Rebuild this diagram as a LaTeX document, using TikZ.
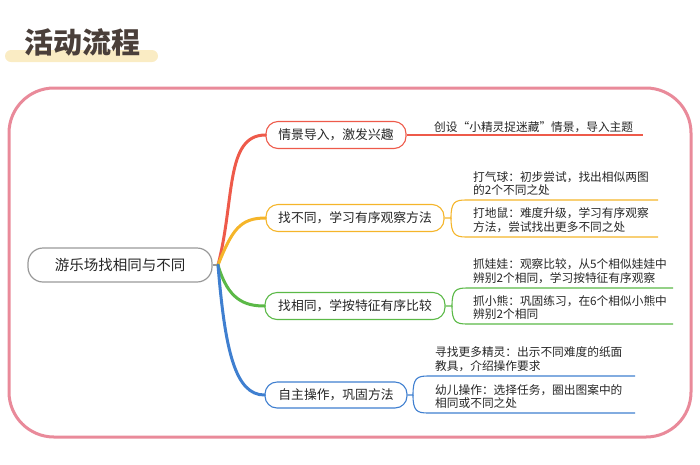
\documentclass[tikz,border=0pt]{standalone}
\usepackage{fontspec}
\setmainfont{Noto Sans CJK SC}
\begin{document}
\begin{tikzpicture}[x=1pt,y=-1pt,
  box/.style={draw=#1,line width=1.1pt,rounded corners=12pt,fill=white,inner sep=0pt,font=\fontsize{12.8}{14}\selectfont,text=black!85},
  leaf/.style={anchor=south west,align=left,inner sep=1pt,font=\fontsize{11.7}{13.8}\selectfont,text=black!85},
  trunk/.style={draw=#1,line width=3pt,line cap=round},
  sub/.style={draw=#1,line width=1.1pt}]
\useasboundingbox (0,0) rectangle (700,464);
\definecolor{cr}{HTML}{EE5A4A}\definecolor{co}{HTML}{F5B52A}
\definecolor{cg}{HTML}{5BB947}\definecolor{cb}{HTML}{3F7FD0}
\definecolor{pk}{HTML}{E98A9A}
\fill[fill={rgb,255:red,250;green,236;blue,196}, rounded corners=6pt] (5,50) rectangle (158,62);
\node[font=\fontsize{29}{32}\bfseries\selectfont,text={rgb,255:red,74;green,63;blue,58},anchor=west,inner sep=0pt] (title) at (24,42) {活动流程};
\draw[pk,line width=3pt,rounded corners=45pt] (9,88) rectangle (691,437);
\node[draw=gray!80,line width=1.2pt,rounded corners=15pt,minimum width=184pt,minimum height=34pt,font=\fontsize{14.5}{16}\selectfont,text=black!85] (root) at (120,265) {游乐场找相同与不同};
\coordinate (j) at (218,265);
\draw[gray!80,line width=1.2pt] (root.east) -- (j);
% boxes
\node[box=cr,minimum width=140pt,minimum height=27pt] (b1) at (336,135) {情景导入，激发兴趣};
\node[box=co,minimum width=178pt,minimum height=27pt] (b2) at (355,218) {找不同，学习有序观察方法};
\node[box=cg,minimum width=180pt,minimum height=27pt] (b3) at (355,306) {找相同，学按特征有序比较};
\node[box=cb,minimum width=142pt,minimum height=26pt] (b4) at (336,395) {自主操作，巩固方法};
\draw[trunk=cr] (j) .. controls (235,200) and (225,135) .. (b1.west);
\draw[trunk=co] (j) .. controls (232,230) and (240,218) .. (b2.west);
\draw[trunk=cg] (j) .. controls (228,300) and (245,306) .. (b3.west);
\draw[trunk=cb] (j) .. controls (225,350) and (235,395) .. (b4.west);
% branch 1
\coordinate (e1) at (643,135);
\draw[sub=cr] (b1.east) -- (e1);
\node[leaf] (l1) at (433,134) {创设“小精灵捉迷藏”情景，导入主题};
% branch 2
\coordinate (k2) at (451,218);
\coordinate (s2a) at (466,200);\coordinate (e2a) at (658,200);
\coordinate (s2b) at (466,237);\coordinate (e2b) at (658,237);
\draw[sub=co] (b2.east) -- (k2) .. controls (451,202) and (455,200) .. (s2a) -- (e2a);
\draw[sub=co] (k2) .. controls (451,234) and (455,237) .. (s2b) -- (e2b);
\node[leaf] (l2a) at (472,197) {打气球：初步尝试，找出相似两图\\的2个不同之处};
\node[leaf] (l2b) at (472,234) {打地鼠：难度升级，学习有序观察\\方法，尝试找出更多不同之处};
% branch 3
\coordinate (k3) at (452,306);
\coordinate (s3a) at (467,288);\coordinate (e3a) at (673,288);
\coordinate (s3b) at (467,324);\coordinate (e3b) at (673,324);
\draw[sub=cg] (b3.east) -- (k3) .. controls (452,290) and (456,288) .. (s3a) -- (e3a);
\draw[sub=cg] (k3) .. controls (452,322) and (456,324) .. (s3b) -- (e3b);
\node[leaf] (l3a) at (472,285) {抓娃娃：观察比较，从5个相似娃娃中\\辨别2个相同，学习按特征有序观察};
\node[leaf] (l3b) at (472,321) {抓小熊：巩固练习，在6个相似小熊中\\辨别2个相同};
% branch 4
\coordinate (k4) at (413,395);
\coordinate (s4a) at (428,376);\coordinate (e4a) at (635,376);
\coordinate (s4b) at (428,413);\coordinate (e4b) at (635,413);
\draw[sub=cb] (b4.east) -- (k4) .. controls (413,378) and (417,376) .. (s4a) -- (e4a);
\draw[sub=cb] (k4) .. controls (413,411) and (417,413) .. (s4b) -- (e4b);
\node[leaf] (l4a) at (434,373) {寻找更多精灵：出示不同难度的纸面\\教具，介绍操作要求};
\node[leaf] (l4b) at (434,410) {幼儿操作：选择任务，圈出图案中的\\相同或不同之处};
\end{tikzpicture}
\end{document}
